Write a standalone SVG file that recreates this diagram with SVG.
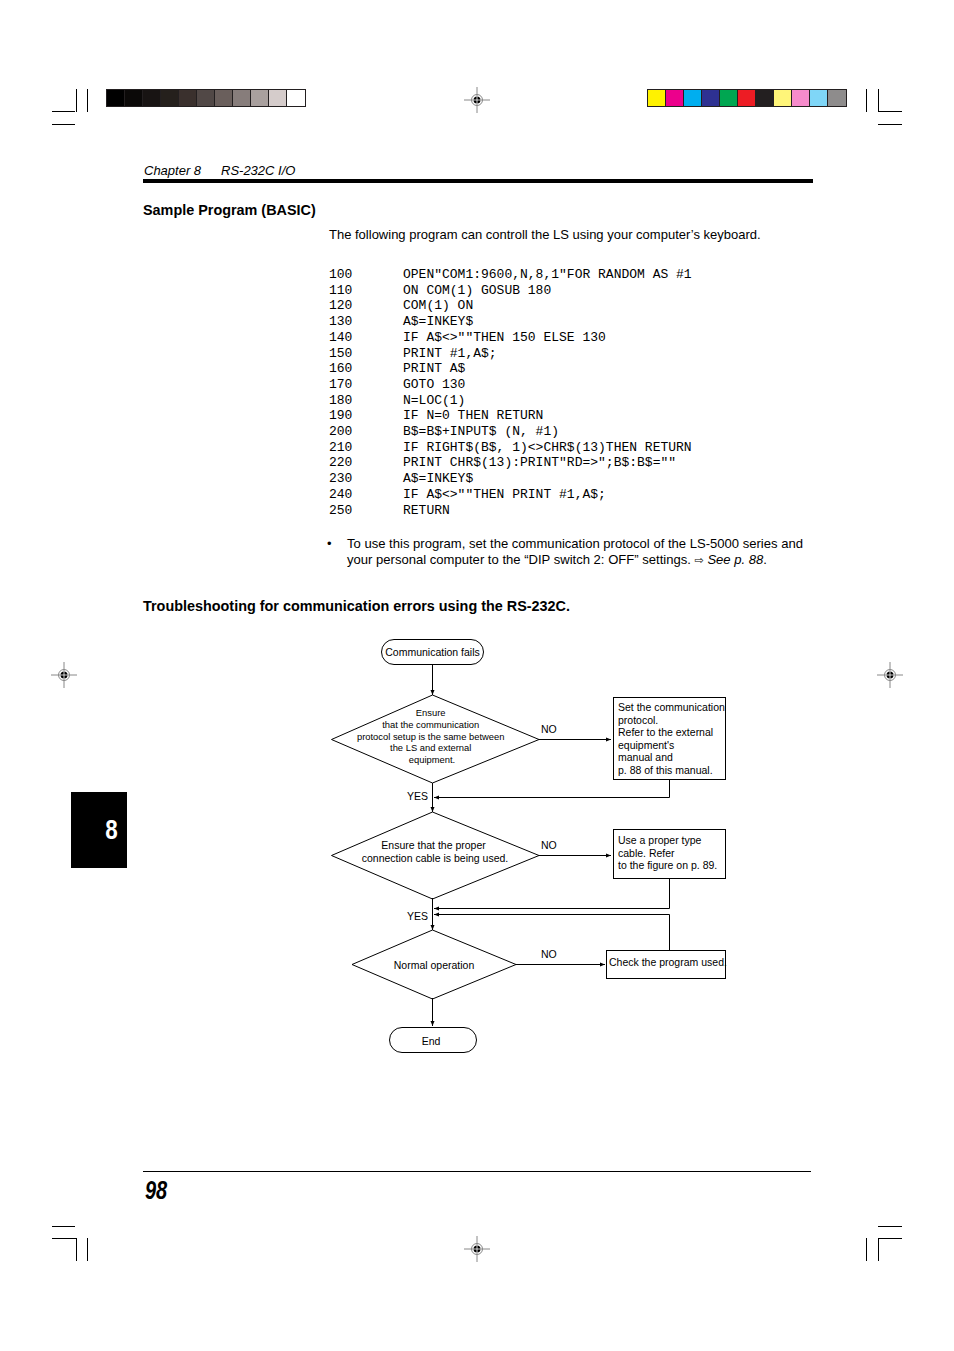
<svg xmlns="http://www.w3.org/2000/svg" width="954" height="1351" viewBox="0 0 954 1351">
<defs>
<style>
.t{font-family:"Liberation Sans",Arial,sans-serif;fill:#000}
.m{font-family:"Liberation Mono","Courier New",monospace;font-size:13px;fill:#000}
.fc{font-family:"Liberation Sans",Arial,sans-serif;font-size:10.5px;fill:#000}
.fs{font-size:9.4px}
.sh{fill:none;stroke:#000;stroke-width:1}
.ln{fill:none;stroke:#000;stroke-width:1}
.crop{stroke:#000;stroke-width:1;fill:none}
.sw{stroke:#231f20;stroke-width:1}
.reg{stroke:#888;stroke-width:1;fill:none}
</style>
<marker id="ar" viewBox="0 0 10 10" refX="10" refY="5" markerWidth="7" markerHeight="5" orient="auto" markerUnits="userSpaceOnUse">
<path d="M0,1 L10,5 L0,9 Z" fill="#000"/>
</marker>
<g id="regmark">
<line x1="-13" y1="0" x2="13" y2="0" class="reg"/>
<line x1="0" y1="-13" x2="0" y2="13" class="reg"/>
<circle r="5.5" class="reg" stroke="#444"/>
<circle r="3.5" fill="#000"/>
<line x1="-4" y1="0" x2="4" y2="0" stroke="#fff" stroke-width="0.8"/>
<line x1="0" y1="-4" x2="0" y2="4" stroke="#fff" stroke-width="0.8"/>
</g>
</defs>
<rect width="954" height="1351" fill="#fff"/>

<!-- crop marks -->
<g id="cropmarks">
<line x1="52" y1="111.5" x2="75" y2="111.5" class="crop"/>
<line x1="76.5" y1="89" x2="76.5" y2="112" class="crop"/>
<line x1="87.5" y1="89" x2="87.5" y2="112" class="crop"/>
<line x1="52" y1="124.5" x2="75" y2="124.5" class="crop"/>
<line x1="866.5" y1="89" x2="866.5" y2="112" class="crop"/>
<line x1="878.5" y1="89" x2="878.5" y2="112" class="crop"/>
<line x1="878" y1="111.5" x2="902" y2="111.5" class="crop"/>
<line x1="878" y1="124.5" x2="902" y2="124.5" class="crop"/>
<line x1="52" y1="1226.5" x2="75" y2="1226.5" class="crop"/>
<line x1="52" y1="1238.5" x2="76" y2="1238.5" class="crop"/>
<line x1="76.5" y1="1238" x2="76.5" y2="1261" class="crop"/>
<line x1="87.5" y1="1238" x2="87.5" y2="1261" class="crop"/>
<line x1="878" y1="1226.5" x2="902" y2="1226.5" class="crop"/>
<line x1="878" y1="1238.5" x2="902" y2="1238.5" class="crop"/>
<line x1="878.5" y1="1238" x2="878.5" y2="1261" class="crop"/>
<line x1="866.5" y1="1238" x2="866.5" y2="1261" class="crop"/>
</g>

<!-- gray strip -->
<g id="graystrip" class="sw">
<rect x="106.5" y="89.5" width="18" height="17" fill="#000000"/>
<rect x="124.5" y="89.5" width="18" height="17" fill="#0b0908"/>
<rect x="142.5" y="89.5" width="18" height="17" fill="#181413"/>
<rect x="160.5" y="89.5" width="18" height="17" fill="#25201c"/>
<rect x="178.5" y="89.5" width="18" height="17" fill="#3a302d"/>
<rect x="196.5" y="89.5" width="18" height="17" fill="#514846"/>
<rect x="214.5" y="89.5" width="18" height="17" fill="#6a5f5c"/>
<rect x="232.5" y="89.5" width="18" height="17" fill="#877d7b"/>
<rect x="250.5" y="89.5" width="18" height="17" fill="#a9a09e"/>
<rect x="268.5" y="89.5" width="18" height="17" fill="#d5cccb"/>
<rect x="286.5" y="89.5" width="19" height="17" fill="#ffffff"/>
</g>
<!-- color strip -->
<g id="colorstrip" class="sw">
<rect x="647.5" y="89.5" width="18" height="17" fill="#fff200"/>
<rect x="665.5" y="89.5" width="18" height="17" fill="#ec008c"/>
<rect x="683.5" y="89.5" width="18" height="17" fill="#00aeef"/>
<rect x="701.5" y="89.5" width="18" height="17" fill="#2e3192"/>
<rect x="719.5" y="89.5" width="18" height="17" fill="#00a651"/>
<rect x="737.5" y="89.5" width="18" height="17" fill="#ed1c24"/>
<rect x="755.5" y="89.5" width="18" height="17" fill="#231f20"/>
<rect x="773.5" y="89.5" width="18" height="17" fill="#fff579"/>
<rect x="791.5" y="89.5" width="18" height="17" fill="#f68bcb"/>
<rect x="809.5" y="89.5" width="18" height="17" fill="#7fd6f7"/>
<rect x="827.5" y="89.5" width="19" height="17" fill="#8e8c8c"/>
</g>

<!-- registration marks -->
<use href="#regmark" x="477" y="100"/>
<use href="#regmark" x="64" y="675"/>
<use href="#regmark" x="890" y="675"/>
<use href="#regmark" x="477" y="1249"/>

<!-- header -->
<text class="t" x="144" y="175" font-size="13" font-style="italic">Chapter 8<tspan x="221">RS-232C I/O</tspan></text>
<rect x="143" y="179" width="670" height="4" fill="#000"/>

<text class="t" x="143" y="215" font-size="14.4" font-weight="bold">Sample Program (BASIC)</text>
<text class="t" x="329" y="239" font-size="13">The following program can controll the LS using your computer’s keyboard.</text>

<!-- code -->
<g id="code" class="m">
<text x="329" y="278">100<tspan x="403">OPEN"COM1:9600,N,8,1"FOR RANDOM AS #1</tspan></text>
<text x="329" y="293.7">110<tspan x="403">ON COM(1) GOSUB 180</tspan></text>
<text x="329" y="309.4">120<tspan x="403">COM(1) ON</tspan></text>
<text x="329" y="325.1">130<tspan x="403">A$=INKEY$</tspan></text>
<text x="329" y="340.8">140<tspan x="403">IF A$&lt;&gt;""THEN 150 ELSE 130</tspan></text>
<text x="329" y="356.5">150<tspan x="403">PRINT #1,A$;</tspan></text>
<text x="329" y="372.2">160<tspan x="403">PRINT A$</tspan></text>
<text x="329" y="387.9">170<tspan x="403">GOTO 130</tspan></text>
<text x="329" y="403.6">180<tspan x="403">N=LOC(1)</tspan></text>
<text x="329" y="419.3">190<tspan x="403">IF N=0 THEN RETURN</tspan></text>
<text x="329" y="435">200<tspan x="403">B$=B$+INPUT$ (N, #1)</tspan></text>
<text x="329" y="450.7">210<tspan x="403">IF RIGHT$(B$, 1)&lt;&gt;CHR$(13)THEN RETURN</tspan></text>
<text x="329" y="466.4">220<tspan x="403">PRINT CHR$(13):PRINT"RD=&gt;";B$:B$=""</tspan></text>
<text x="329" y="482.1">230<tspan x="403">A$=INKEY$</tspan></text>
<text x="329" y="497.8">240<tspan x="403">IF A$&lt;&gt;""THEN PRINT #1,A$;</tspan></text>
<text x="329" y="513.5">250<tspan x="403">RETURN</tspan></text>
</g>

<!-- bullet -->
<text class="t" x="327" y="548" font-size="13">•</text>
<text class="t" x="347" y="548" font-size="13.07">To use this program, set the communication protocol of the LS-5000 series and</text>
<text class="t" x="347" y="564" font-size="13.07">your personal computer to the “DIP switch 2: OFF” settings. <tspan font-size="11" font-family="DejaVu Sans,sans-serif">⇨</tspan> <tspan font-style="italic">See p. 88</tspan>.</text>

<text class="t" x="143" y="611" font-size="14.4" font-weight="bold">Troubleshooting for communication errors using the RS-232C.</text>

<!-- flowchart connectors -->
<g id="connectors" class="ln">
<line x1="432.5" y1="664" x2="432.5" y2="695" marker-end="url(#ar)"/>
<line x1="539" y1="739.5" x2="611" y2="739.5" marker-end="url(#ar)"/>
<polyline points="669.5,779 669.5,797.5 434,797.5" marker-end="url(#ar)"/>
<line x1="432.5" y1="783" x2="432.5" y2="812" marker-end="url(#ar)"/>
<line x1="539" y1="855.5" x2="611" y2="855.5" marker-end="url(#ar)"/>
<polyline points="669.5,878 669.5,908.5 434,908.5" marker-end="url(#ar)"/>
<polyline points="669.5,950 669.5,914.5 434,914.5" marker-end="url(#ar)"/>
<line x1="432.5" y1="898" x2="432.5" y2="930" marker-end="url(#ar)"/>
<line x1="516" y1="964.5" x2="605" y2="964.5" marker-end="url(#ar)"/>
<line x1="432.5" y1="998" x2="432.5" y2="1026" marker-end="url(#ar)"/>
</g>
<g id="labels" class="fc">
<text x="541" y="733">NO</text>
<text x="541" y="849">NO</text>
<text x="541" y="958">NO</text>
<text x="407" y="800">YES</text>
<text x="407" y="920">YES</text>
</g>

<!-- nodes -->
<g id="start">
<rect x="381.5" y="639.5" width="102" height="25" rx="12.5" class="sh"/>
<text class="fc" x="432.5" y="655.5" text-anchor="middle">Communication fails</text>
</g>
<g id="decision1">
<polygon points="432.5,695 539,739.5 432.5,783 331.5,739.5" class="sh"/>
<text class="fc fs" text-anchor="middle">
<tspan x="432" y="716">Ensure</tspan>
<tspan x="432" y="728">that the communication</tspan>
<tspan x="432" y="740">protocol setup is the same between</tspan>
<tspan x="432" y="751">the LS and external</tspan>
<tspan x="432" y="763">equipment.</tspan>
</text>
</g>
<g id="box1">
<rect x="613.5" y="697.5" width="112" height="82" class="sh"/>
<text class="fc">
<tspan x="618" y="711">Set the communication</tspan>
<tspan x="618" y="724">protocol.</tspan>
<tspan x="618" y="736">Refer to the external</tspan>
<tspan x="618" y="749">equipment's</tspan>
<tspan x="618" y="761">manual and</tspan>
<tspan x="618" y="774">p. 88 of this manual.</tspan>
</text>
</g>
<g id="decision2">
<polygon points="432.5,812 539,855.5 432.5,899 331.5,855.5" class="sh"/>
<text class="fc" text-anchor="middle">
<tspan x="435" y="849">Ensure that the proper</tspan>
<tspan x="435" y="862">connection cable is being used.</tspan>
</text>
</g>
<g id="box2">
<rect x="613.5" y="829.5" width="112" height="49" class="sh"/>
<text class="fc">
<tspan x="618" y="844">Use a proper type</tspan>
<tspan x="618" y="857">cable. Refer</tspan>
<tspan x="618" y="869">to the figure on p. 89.</tspan>
</text>
</g>
<g id="decision3">
<polygon points="432.5,930 516,964.5 432.5,999 352,964.5" class="sh"/>
<text class="fc" x="434" y="969" text-anchor="middle">Normal operation</text>
</g>
<g id="box3">
<rect x="606.5" y="950.5" width="119" height="28" class="sh"/>
<text class="fc" x="609" y="966">Check the program used.</text>
</g>
<g id="end">
<rect x="389.5" y="1027.5" width="87" height="25" rx="12.5" class="sh"/>
<text class="fc" x="431" y="1045" text-anchor="middle">End</text>
</g>

<!-- side tab -->
<rect x="71" y="792" width="56" height="76" fill="#000"/>
<text class="t" x="111.5" y="839" font-size="28" font-weight="bold" text-anchor="middle" style="fill:#fff" transform="translate(111.5 0) scale(0.8 1) translate(-111.5 0)">8</text>

<!-- footer -->
<line x1="143" y1="1171.5" x2="811" y2="1171.5" stroke="#000" stroke-width="1"/>
<text class="t" x="145" y="1199" font-size="25" font-weight="bold" font-style="italic" transform="translate(145 0) scale(0.8 1) translate(-145 0)">98</text>
</svg>
